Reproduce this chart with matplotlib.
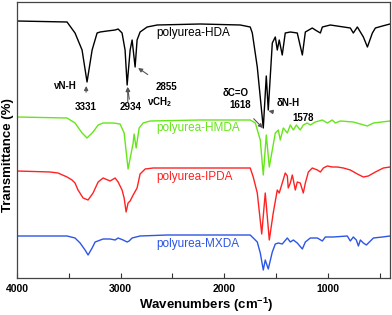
import matplotlib
matplotlib.use("Agg")
import matplotlib.pyplot as plt
from matplotlib.ticker import MultipleLocator

plt.rcParams['font.family'] = ['Liberation Sans', 'DejaVu Sans']
plt.rcParams['mathtext.fontset'] = 'custom'
plt.rcParams['mathtext.rm'] = 'Liberation Sans'
plt.rcParams['mathtext.bf'] = 'Liberation Sans:bold'
plt.rcParams['mathtext.default'] = 'regular'

# ---- data (wavenumber, transmittance in arbitrary offset units) ----
hda_wn = [4000, 3517, 3440, 3372, 3324, 3275, 3227, 3198, 3130, 3053, 3024, 2986, 2957, 2937,
          2908, 2889, 2860, 2841, 2812, 2744, 2647, 2232, 1845, 1749, 1729, 1681, 1623, 1594,
          1575, 1536, 1507, 1488, 1469, 1440, 1411, 1362, 1295, 1246, 1217, 1150, 1121, 1072,
          1053, 976, 783, 754, 715, 657, 618, 570, 541, 473, 400]
hda_t = [257, 256, 245, 228, 196, 228, 245, 246, 247, 248, 249, 245, 228, 193,
         228, 238, 211, 238, 246, 251, 253, 254, 253, 251, 245, 211, 150, 202,
         168, 235, 241, 228, 238, 223, 245, 246, 245, 223, 246, 250, 248, 245,
         251, 253, 250, 245, 251, 241, 231, 245, 250, 252, 254]

hmda_wn = [4000, 3517, 3440, 3372, 3324, 3266, 3217, 3169, 3072, 3005, 2966, 2928, 2879, 2870,
           2850, 2821, 2783, 2715, 2232, 1749, 1700, 1652, 1623, 1594, 1565, 1536, 1507, 1478,
           1459, 1430, 1391, 1362, 1333, 1304, 1266, 1237, 1198, 1169, 1121, 1053, 1005, 957,
           928, 879, 754, 686, 618, 560, 400]
hmda_t = [161, 160, 155, 145, 140, 146, 153, 155, 155, 154, 145, 109, 135, 144,
          130, 150, 155, 157, 158, 158, 155, 138, 103, 143, 111, 128, 145, 148,
          138, 150, 145, 153, 148, 153, 148, 153, 155, 153, 156, 158, 155, 158,
          155, 157, 156, 154, 152, 155, 157]

ipda_wn = [4000, 3681, 3604, 3517, 3469, 3440, 3411, 3362, 3314, 3266, 3217, 3169, 3101, 3053,
           3024, 2986, 2966, 2947, 2928, 2908, 2879, 2841, 2812, 2763, 2686, 2232, 1749, 1720,
           1681, 1638, 1604, 1565, 1527, 1488, 1469, 1440, 1411, 1391, 1382, 1362, 1343, 1333,
           1314, 1295, 1266, 1237, 1217, 1188, 1150, 1101, 1072, 1043, 1005, 957, 908, 850,
           783, 715, 657, 609, 541, 464, 400]
ipda_t = [107, 106, 105, 101, 98, 95, 88, 80, 78, 85, 96, 100, 97, 100,
          96, 88, 80, 66, 75, 77, 83, 90, 104, 109, 110, 110, 110, 101,
          85, 44, 85, 38, 65, 88, 85, 95, 105, 102, 90, 95, 103, 98,
          88, 96, 95, 85, 95, 106, 110, 108, 106, 110, 112, 111, 111, 110,
          108, 104, 101, 102, 106, 110, 111]

mxda_wn = [4000, 3517, 3440, 3391, 3343, 3314, 3275, 3246, 3169, 3101, 3053, 3024, 2976, 2937,
           2918, 2889, 2812, 2551, 1749, 1681, 1652, 1623, 1604, 1575, 1536, 1507, 1478, 1440,
           1391, 1362, 1333, 1295, 1246, 1217, 1169, 1101, 1053, 1024, 947, 812, 783, 754,
           725, 705, 686, 657, 628, 560, 473, 400]
mxda_t = [42, 42, 40, 35, 28, 23, 30, 36, 39, 39, 38, 40, 38, 36,
          37, 40, 42, 43, 43, 36, 25, 8, 18, 9, 26, 34, 35, 34,
          40, 36, 38, 35, 29, 36, 40, 40, 37, 41, 41, 42, 37, 41,
          38, 32, 38, 35, 33, 40, 41, 42]

series_names = ['polyurea-HDA', 'polyurea-HMDA', 'polyurea-IPDA', 'polyurea-MXDA']
series_colors = ['#000000', '#66e61a', '#ff2222', '#2d55e6']
label_pos = [(2657, 245), (2657, 150), (2657, 101), (2657, 34)]

xticks = [4000, 3000, 2000, 1000]

# ---- figure ----
fig = plt.figure(figsize=(3.92, 3.15), dpi=100)
ax = fig.add_axes([17 / 392, 37 / 315, 373 / 392, 276 / 315])

for wn, t, c in zip([hda_wn, hmda_wn, ipda_wn, mxda_wn], [hda_t, hmda_t, ipda_t, mxda_t], series_colors):
    ax.plot(wn, t, color=c, lw=1.0)

for name, c, (lx, ly) in zip(series_names, series_colors, label_pos):
    ax.text(lx, ly, name, color=c, fontsize=8.5, ha='left', va='center')

ax.set_xlim(4000, 400)
ax.set_ylim(0, 276)
ax.set_xticks(xticks)
ax.set_xticklabels([str(v) for v in xticks], fontweight='bold', fontsize=7.5)
ax.xaxis.set_minor_locator(MultipleLocator(500))
ax.set_yticks([])
ax.tick_params(axis='x', which='both', direction='in', length=3.5, width=0.8, pad=4, colors='#333333', labelcolor='black')
for s in ax.spines.values():
    s.set_color('#444444')
    s.set_linewidth(0.9)

fig.text(206 / 392, 1 - 305 / 315, r'Wavenumbers (cm$^{-1}$)', fontsize=9.5, fontweight='bold',
         ha='center', va='center')
fig.text(8 / 392, 1 - 155 / 315, 'Transmittance (%)', fontsize=9.5, fontweight='bold',
         rotation=90, ha='center', va='center')

# ---- annotations ----
afs = 7
aprops = dict(arrowstyle='-|>', color='#555555', lw=0.8, mutation_scale=6, shrinkA=0, shrinkB=0)
ax.text(3546, 192, 'νN-H', fontsize=afs, fontweight='bold', ha='center', va='center')
ax.annotate('3331', xy=(3331, 192), xytext=(3340, 171), fontsize=afs, fontweight='bold',
            ha='center', va='center', arrowprops=dict(aprops, shrinkA=5))
ax.annotate('2934', xy=(2934, 191), xytext=(2905, 171), fontsize=afs, fontweight='bold',
            ha='center', va='center', arrowprops=dict(aprops, shrinkA=0),
            )
ax.annotate('', xy=(2931, 191), xytext=(2931, 176), arrowprops=aprops)
ax.annotate('2855', xy=(2831, 210), xytext=(2561, 191), fontsize=afs, fontweight='bold',
            ha='center', va='center', arrowprops=dict(aprops, shrinkA=6))
ax.text(2620, 176, r'νCH$_2$', fontsize=afs, fontweight='bold', ha='center', va='center')
ax.text(1894, 185, 'δC=O', fontsize=afs, fontweight='bold', ha='center', va='center')
ax.annotate('1618', xy=(1628, 150), xytext=(1845, 173), fontsize=afs, fontweight='bold',
            ha='center', va='center', arrowprops=dict(aprops, shrinkA=6))
ax.text(1382, 175, 'δN-H', fontsize=afs, fontweight='bold', ha='center', va='center')
ax.annotate('1578', xy=(1572, 167), xytext=(1237, 160), fontsize=afs, fontweight='bold',
            ha='center', va='center', arrowprops=dict(aprops, shrinkA=12))

fig.savefig('out.png', dpi=100)
